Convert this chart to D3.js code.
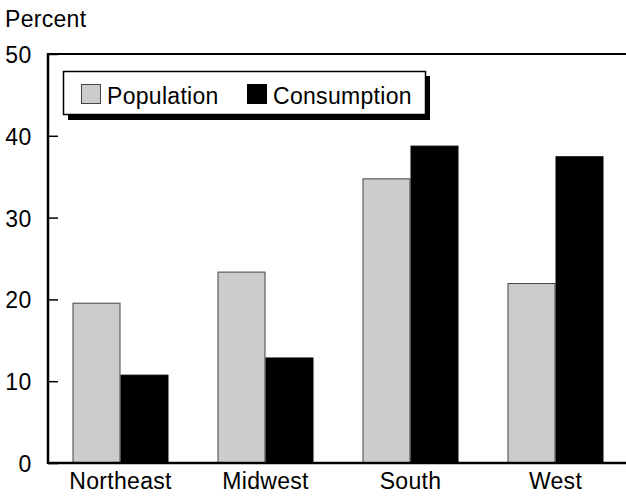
<!DOCTYPE html>
<html><head>
<meta charset="utf-8"/>
<script src="https://d3js.org/d3.v7.min.js"></script>
<style>
  body { margin: 0; padding: 0; background: #fff; width: 626px; height: 496px; overflow: hidden; }
  text { font-family: 'Liberation Sans', Arial, sans-serif; fill: #000; letter-spacing: 0.3px; }
</style>
</head>
<body>
<div id="chart"></div>
<script>
// data
const regions = ["Northeast", "Midwest", "South", "West"];
const population = [19.6, 23.4, 34.8, 22.0];
const consumption = [10.8, 12.9, 38.8, 37.5];
const yTicks = [0, 10, 20, 30, 40, 50];
const seriesNames = ["Population", "Consumption"];
const seriesColors = ["#cccccc", "#000000"];

const W = 626, H = 496;
const plotL = 48, plotR = 628, plotT = 54, plotB = 463;

const svg = d3.select("#chart").append("svg")
    .attr("width", W).attr("height", H);

const x = d3.scaleBand().domain(regions).range([plotL, plotR])
    .paddingInner(0.338).paddingOuter(0.169);
const x1 = d3.scaleBand().domain(seriesNames).range([0, x.bandwidth()]);
const y = d3.scaleLinear().domain([0, 50]).range([plotB, plotT]);

// y axis title
svg.append("text").attr("x", 5).attr("y", 27)
    .style("font-size", "23px").text("Percent");

// bars
const rows = regions.map((r, i) => ({ region: r, values: [population[i], consumption[i]] }));
const g = svg.selectAll(".grp").data(rows).enter().append("g")
    .attr("transform", d => `translate(${x(d.region)},0)`);
g.selectAll("rect").data(d => d.values.map((v, j) => ({ v, j }))).enter().append("rect")
    .attr("x", d => x1(seriesNames[d.j]) + 0.5)
    .attr("y", d => y(d.v) + 0.5)
    .attr("width", x1.bandwidth() - 1)
    .attr("height", d => y(0) - y(d.v) - 0.5)
    .attr("fill", d => seriesColors[d.j])
    .attr("stroke", d => d.j === 0 ? "#444" : "#000")
    .attr("stroke-width", 1);

// frame lines: left, top, bottom
svg.append("line").attr("x1", plotL).attr("x2", W).attr("y1", plotT).attr("y2", plotT)
    .attr("stroke", "#000").attr("stroke-width", 2);
svg.append("line").attr("x1", plotL).attr("x2", W).attr("y1", plotB).attr("y2", plotB)
    .attr("stroke", "#000").attr("stroke-width", 2.5);
svg.append("line").attr("x1", plotL).attr("x2", plotL).attr("y1", plotT - 1).attr("y2", plotB + 1)
    .attr("stroke", "#000").attr("stroke-width", 2.5);

// y axis ticks (inward) and labels
const yAxis = svg.append("g").attr("transform", `translate(${plotL},0)`)
    .call(d3.axisRight(y).tickValues(yTicks).tickSize(10).tickFormat(""));
yAxis.select(".domain").remove();
yAxis.selectAll(".tick line").attr("stroke", "#000").attr("stroke-width", 1.5);
svg.selectAll(".ylab").data(yTicks).enter().append("text")
    .attr("x", 31.5).attr("y", d => y(d) + 9)
    .attr("text-anchor", "end").style("font-size", "23px")
    .text(d => d);

// x axis labels
const xAxis = svg.append("g").attr("transform", `translate(0,${plotB})`)
    .call(d3.axisBottom(x).tickSize(0).tickPadding(10));
xAxis.select(".domain").remove();
xAxis.selectAll("text").style("font-size", "23px")
    .style("font-family", "'Liberation Sans', Arial, sans-serif").attr("fill", "#000");

// legend
const lg = svg.append("g");
lg.append("rect").attr("x", 68).attr("y", 76).attr("width", 362).attr("height", 44).attr("fill", "#000");
lg.append("rect").attr("x", 63.5).attr("y", 71.5).attr("width", 362).attr("height", 43)
    .attr("fill", "#fff").attr("stroke", "#000").attr("stroke-width", 1.5);
const legX = [81, 247];
seriesNames.forEach((s, i) => {
  lg.append("rect").attr("x", legX[i] + 0.5).attr("y", 84.5).attr("width", 19).attr("height", 19)
      .attr("fill", seriesColors[i]).attr("stroke", i === 0 ? "#444" : "#000");
  lg.append("text").attr("x", legX[i] + 26).attr("y", 104)
      .style("font-size", "23px").text(s);
});
</script>
</body></html>
